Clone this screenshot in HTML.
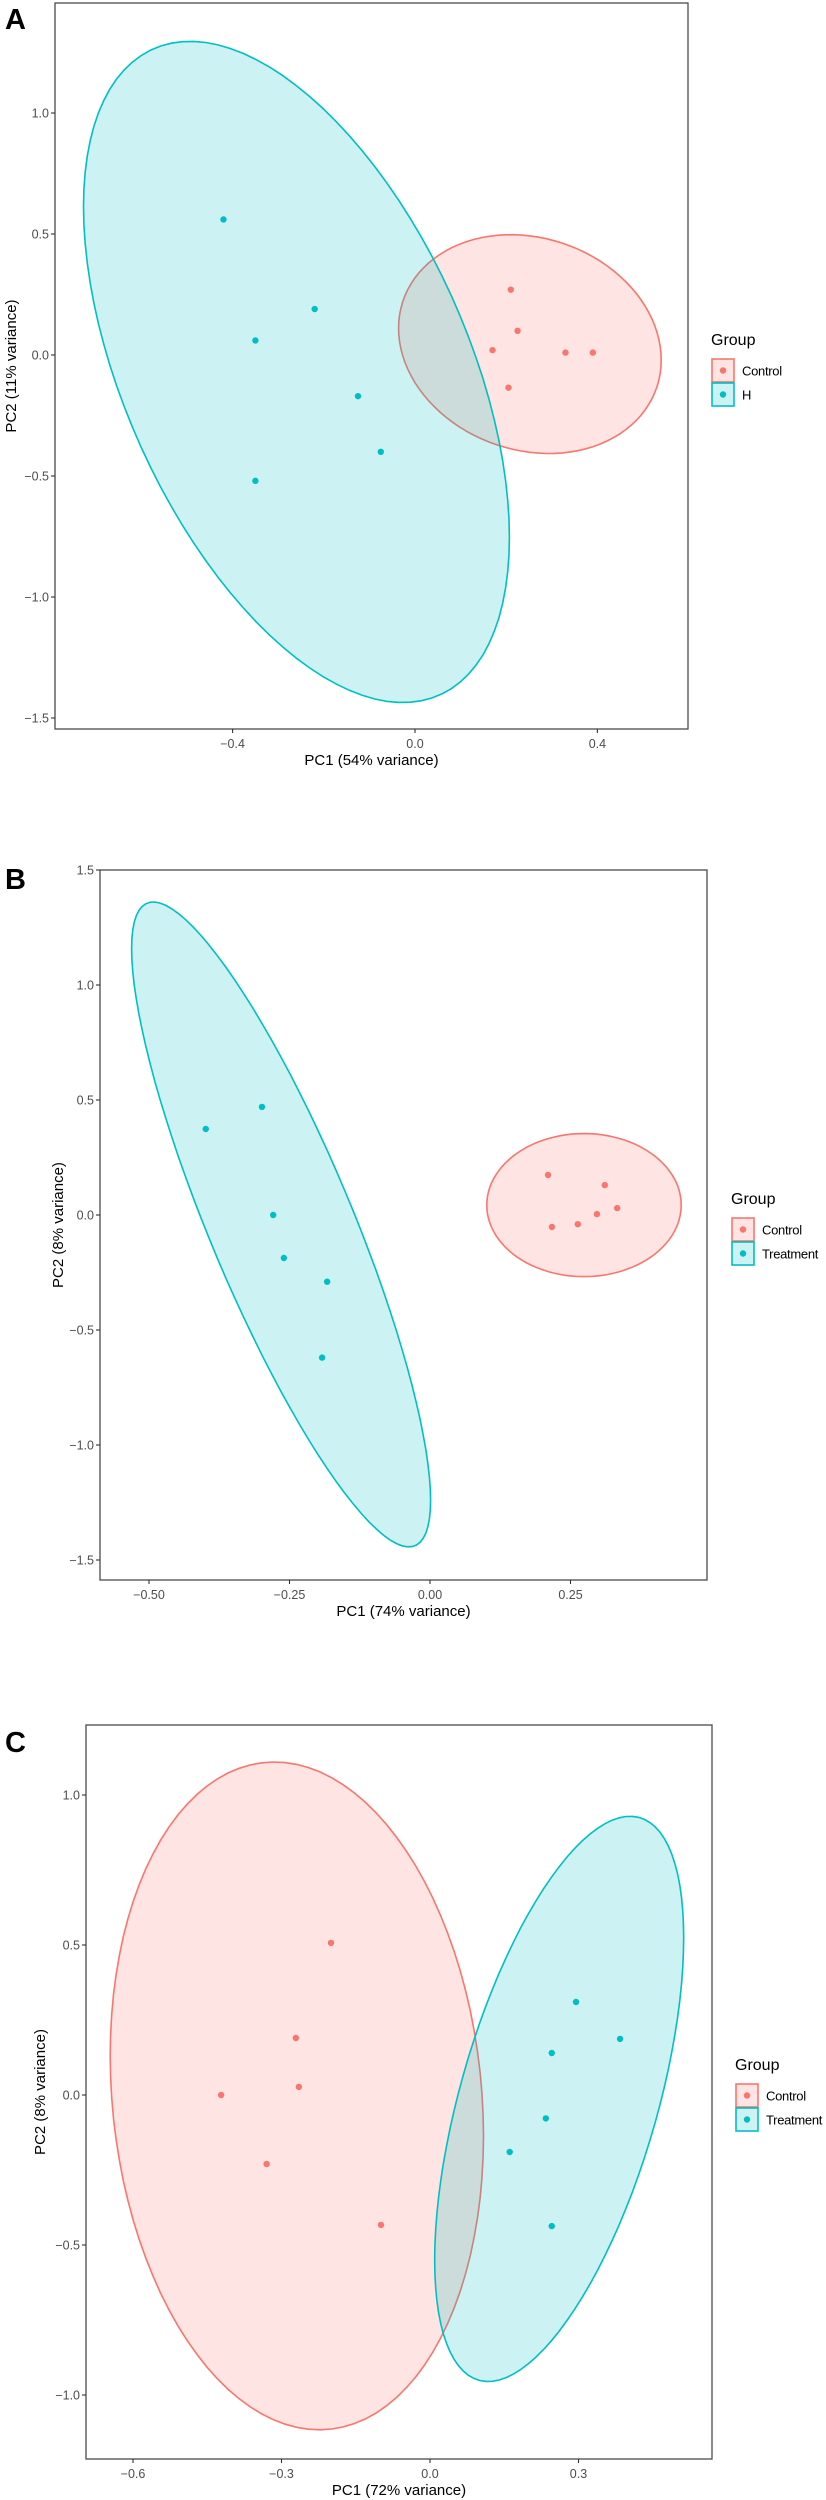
<!DOCTYPE html>
<html><head><meta charset="utf-8"><style>
html,body{margin:0;padding:0;background:#fff;}
svg{display:block;font-family:"Liberation Sans",sans-serif;}
.tick{font-size:12.5px;fill:#4d4d4d;}
.atitle{font-size:15px;fill:#000;}
.ltitle{font-size:16px;fill:#000;}
.ltext{font-size:13px;fill:#000;letter-spacing:-0.3px;}
.plabel{font-size:29px;font-weight:bold;fill:#000;}
</style></head><body>
<svg id="fig" width="826" height="2500" viewBox="0 0 826 2500" xmlns="http://www.w3.org/2000/svg"></svg>
<script>
// ---------- Panel A data ----------
const aXTicks = [-0.4, 0.0, 0.4];
const aYTicks = [-1.5, -1.0, -0.5, 0.0, 0.5, 1.0];
const aControlX = [0.21, 0.225, 0.17, 0.33, 0.39, 0.205];
const aControlY = [0.27, 0.10, 0.02, 0.01, 0.01, -0.135];
const aHX = [-0.42, -0.22, -0.35, -0.125, -0.075, -0.35];
const aHY = [0.56, 0.19, 0.06, -0.17, -0.40, -0.52];
// ellipse: [cx, cy, halfWidth, halfHeight, rho]
const aControlEllipse = [0.252, 0.045, 0.288, 0.452, -0.145];
const aHEllipse = [-0.26, -0.07, 0.467, 1.366, -0.50];
const aGroups = ["Control", "H"];

// ---------- Panel B data ----------
const bXTicks = [-0.50, -0.25, 0.00, 0.25];
const bYTicks = [-1.5, -1.0, -0.5, 0.0, 0.5, 1.0, 1.5];
const bControlX = [0.21, 0.311, 0.217, 0.263, 0.297, 0.333];
const bControlY = [0.174, 0.13, -0.052, -0.04, 0.004, 0.03];
const bTreatX = [-0.399, -0.299, -0.279, -0.26, -0.183, -0.192];
const bTreatY = [0.374, 0.47, 0.0, -0.187, -0.29, -0.62];
const bControlEllipse = [0.274, 0.043, 0.173, 0.311, 0.0];
const bTreatEllipse = [-0.265, -0.041, 0.266, 1.402, -0.855];
const bGroups = ["Control", "Treatment"];

// ---------- Panel C data ----------
const cXTicks = [-0.6, -0.3, 0.0, 0.3];
const cYTicks = [-1.0, -0.5, 0.0, 0.5, 1.0];
const cControlX = [-0.2, -0.271, -0.265, -0.422, -0.33, -0.099];
const cControlY = [0.507, 0.19, 0.027, 0.0, -0.23, -0.433];
const cTreatX = [0.295, 0.384, 0.246, 0.234, 0.161, 0.246];
const cTreatY = [0.31, 0.187, 0.14, -0.078, -0.19, -0.437];
const cControlEllipse = [-0.269, -0.003, 0.377, 1.113, -0.12];
const cTreatEllipse = [0.261, -0.013, 0.2515, 0.942, 0.57];
const cGroups = ["Control", "Treatment"];

const RED = "#F8766D", CYAN = "#00BFC4";
const NS = "http://www.w3.org/2000/svg";
const svg = document.getElementById("fig");
function mk(tag, attrs, parent) {
  const e = document.createElementNS(NS, tag);
  for (const k in attrs) e.setAttribute(k, attrs[k]);
  (parent || svg).appendChild(e);
  return e;
}

function panel(cfg) {
  const g = mk("g", {});
  
  
  const sx = v => cfg.x0 + v * cfg.xs;
  const sy = v => cfg.y0 - v * cfg.ys;
  const fmt = (v, d) => (v < 0 ? "\u2212" : "") + Math.abs(v).toFixed(d);

  const ell = (p, col, fill, name) => {
    const [cx, cy, w, h, r] = p;
    const s = Math.sqrt(1 - r * r);
    let d = "";
    for (let i = 0; i <= 100; i++) {
      const t = i / 100 * 2 * Math.PI;
      const x = cx + w * Math.cos(t);
      const y = cy + h * (r * Math.cos(t) + s * Math.sin(t));
      d += (i ? "L" : "M") + sx(x).toFixed(1) + "," + sy(y).toFixed(1);
    }
    const e = mk("path", {d: d + "Z", fill: fill, "fill-opacity": 0.2, stroke: col, "stroke-width": 1.6}, g);
    
    
  };
  ell(cfg.e1, cfg.c1, cfg.c1, cfg.id + '-' + cfg.n1 + '-ellipse');
  ell(cfg.e2, cfg.c2, cfg.c2, cfg.id + '-' + cfg.n2 + '-ellipse');

  const pts = (xs, ys, col, name) => {
    for (let i = 0; i < xs.length; i++) {
      const c = mk("circle", {cx: sx(xs[i]), cy: sy(ys[i]), r: 3.2, fill: col}, g);
      
      
    }
  };
  pts(cfg.p1x, cfg.p1y, cfg.c1, cfg.id + '-' + cfg.n1 + '-point');
  pts(cfg.p2x, cfg.p2y, cfg.c2, cfg.id + '-' + cfg.n2 + '-point');

  const b = mk("rect", {x: cfg.L, y: cfg.T, width: cfg.R - cfg.L, height: cfg.B - cfg.T, fill: "none", stroke: "#4a4a4a", "stroke-width": 1.3}, g);
  
  

  cfg.xt.forEach(v => {
    const x = sx(v);
    mk("line", {x1: x, x2: x, y1: cfg.B, y2: cfg.B + 4, stroke: "#333", "stroke-width": 1.1}, g);
    const t = mk("text", {x: x, y: cfg.B + 19, "text-anchor": "middle", class: "tick"}, g);
    t.textContent = fmt(v, cfg.xd);
    
    
  });
  cfg.yt.forEach(v => {
    const y = sy(v);
    mk("line", {x1: cfg.L - 4, x2: cfg.L, y1: y, y2: y, stroke: "#333", "stroke-width": 1.1}, g);
    const t = mk("text", {x: cfg.L - 6, y: y + 4.5, "text-anchor": "end", class: "tick"}, g);
    t.textContent = fmt(v, 1);
    
    
  });

  const xt = mk("text", {x: (cfg.L + cfg.R) / 2, y: cfg.B + 36, "text-anchor": "middle", class: "atitle"}, g);
  xt.textContent = cfg.xlab;
  
  
  const ym = (cfg.T + cfg.B) / 2;
  const yt = mk("text", {x: cfg.ylx, y: ym, "text-anchor": "middle", class: "atitle", transform: `rotate(-90 ${cfg.ylx} ${ym})`}, g);
  yt.textContent = cfg.ylab;
  
  

  const pl = mk("text", {x: 5, y: cfg.letterY, class: "plabel"}, g);
  pl.textContent = cfg.id;
  
  

  const lg = mk("g", {}, g);
  
  
  const lt = mk("text", {x: cfg.lx, y: cfg.ly, class: "ltitle"}, lg);
  lt.textContent = "Group";
  
  
  cfg.groups.forEach((name, i) => {
    const col = i === 0 ? cfg.c1 : cfg.c2;
    const ky = cfg.ly + 14 + i * 24;
    const e = mk("g", {}, lg);
    
    
    mk("rect", {x: cfg.lx + 1, y: ky, width: 22, height: 23, fill: col, "fill-opacity": 0.2, stroke: col, "stroke-width": 1.6}, e);
    mk("circle", {cx: cfg.lx + 12, cy: ky + 11.5, r: 3.2, fill: col}, e);
    const tx = mk("text", {x: cfg.lx + 31, y: ky + 16.5, class: "ltext"}, e);
    tx.textContent = name;
  });
}

panel({id: "A", L: 55, R: 688, T: 3, B: 729, x0: 415, xs: 456, y0: 355, ys: 242,
  xt: aXTicks, yt: aYTicks, xd: 1, p1x: aControlX, p1y: aControlY, p2x: aHX, p2y: aHY,
  e1: aControlEllipse, e2: aHEllipse, c1: RED, c2: CYAN, n1: "control", n2: "h",
  xlab: "PC1 (54% variance)", ylab: "PC2 (11% variance)", ylx: 16, letterY: 29,
  lx: 711, ly: 345, groups: aGroups});

panel({id: "B", L: 100, R: 707, T: 870, B: 1580, x0: 430, xs: 562, y0: 1215, ys: 230,
  xt: bXTicks, yt: bYTicks, xd: 2, p1x: bControlX, p1y: bControlY, p2x: bTreatX, p2y: bTreatY,
  e1: bControlEllipse, e2: bTreatEllipse, c1: RED, c2: CYAN, n1: "control", n2: "treatment",
  xlab: "PC1 (74% variance)", ylab: "PC2 (8% variance)", ylx: 63, letterY: 889,
  lx: 731, ly: 1204, groups: bGroups});

panel({id: "C", L: 86, R: 712, T: 1725, B: 2459, x0: 430, xs: 495, y0: 2095, ys: 300,
  xt: cXTicks, yt: cYTicks, xd: 1, p1x: cControlX, p1y: cControlY, p2x: cTreatX, p2y: cTreatY,
  e1: cControlEllipse, e2: cTreatEllipse, c1: RED, c2: CYAN, n1: "control", n2: "treatment",
  xlab: "PC1 (72% variance)", ylab: "PC2 (8% variance)", ylx: 45, letterY: 1752,
  lx: 735, ly: 2070, groups: cGroups});
</script>
</body></html>
